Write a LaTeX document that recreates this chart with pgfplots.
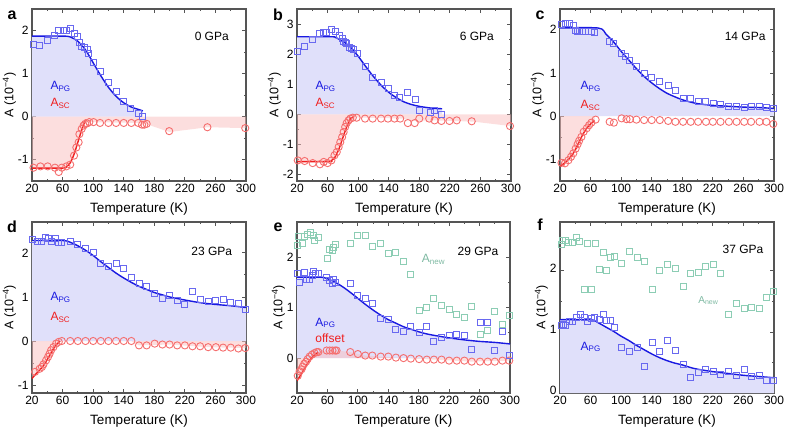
\documentclass[border=0pt]{standalone}
\usepackage{fontspec}
\setmainfont{Liberation Sans}
\usepackage{pgfplots}
\pgfplotsset{compat=1.18}
\definecolor{pgline}{RGB}{25,25,225}
\definecolor{pgmark}{RGB}{105,105,240}
\definecolor{pgfill}{RGB}{224,224,250}
\definecolor{scline}{RGB}{240,30,30}
\definecolor{scmark}{RGB}{245,110,110}
\definecolor{scfill}{RGB}{250,190,190}
\definecolor{newmark}{RGB}{140,205,180}
\definecolor{framec}{RGB}{85,85,85}
\newcommand{\fs}{\fontsize{12}{14}\selectfont}
\newcommand{\fl}{\fontsize{13.5}{15}\selectfont}
\pgfplotsset{
  panel/.style={
    scale only axis, width=214pt, height=172pt,
    xmin=20, xmax=300, xtick={20,60,...,300}, minor x tick num=1, minor y tick num=1,
    tick align=inside, major tick length=4pt, minor tick length=2.2pt,
    axis line style={line width=1.3pt, draw=framec},
    every tick/.style={framec, line width=0.8pt},
    /pgf/number format/assume math mode=true,
    ticklabel style={font=\fs},
    label style={font=\fl},
    xlabel={Temperature (K)},
    ylabel={A (10\textsuperscript{\char"2212 4})},
    ylabel style={font=\fontsize{12.5}{14}\selectfont, yshift=-5pt},
    xlabel style={yshift=-3pt},
    clip=true,
  },
  pgl/.style={pgline, line width=1.4pt, no markers, smooth},
  scl/.style={scline, line width=1.4pt, no markers, smooth},
  pgm/.style={only marks, mark=square, mark size=3pt, mark options={draw=pgmark, line width=0.9pt, fill=none}},
  scm/.style={only marks, mark=o, mark size=3.6pt, mark options={draw=scmark, line width=0.9pt, fill=none}},
  nwm/.style={only marks, mark=square, mark size=3pt, mark options={draw=newmark, line width=0.9pt, fill=none}},
  pgf/.style={fill=pgfill, draw=none},
  scf/.style={fill=scfill, fill opacity=0.5, draw=none},
}
\begin{document}
\begin{tikzpicture}[x=1pt,y=1pt]
\useasboundingbox (0,0) rectangle (791,-447);
% ---------------- a
\begin{axis}[panel, at={(32pt,-181pt)}, anchor=south west, ymin=-1.5, ymax=2.5, ytick={-1,0,1,2}]
\addplot[pgf] coordinates {(20,0) (20,1.87) (60,1.87) (70,1.85) (80,1.75) (90,1.55) (100,1.25) (110,0.95) (120,0.68) (130,0.47) (140,0.32) (150,0.22) (160,0.16) (165,0.13) (165,0)} -- cycle;
\addplot[scf] coordinates {(20,0) (20,-1.2) (60,-1.2) (65,-1.17) (70,-1.08) (75,-0.88) (80,-0.6) (85,-0.32) (90,-0.12) (95,-0.13) (160,-0.15) (170,-0.18) (200,-0.36) (250,-0.25) (300,-0.27) (300,0)} -- cycle;
\addplot[scm] coordinates {(22,-1.19) (31,-1.16) (40.5,-1.16) (50,-1.19) (55,-1.29) (59,-1.19) (65,-1.16) (70,-1.12) (75,-0.91) (78,-0.72) (81,-0.6) (82,-0.41) (85,-0.29) (87.5,-0.21) (89.7,-0.17) (92,-0.16) (95,-0.13) (100.5,-0.13) (109,-0.15) (120,-0.15) (130,-0.15) (140,-0.15) (150,-0.15) (159,-0.15) (164,-0.19) (167,-0.19) (170,-0.17) (199.5,-0.34) (249.5,-0.25) (299,-0.27)};
\addplot[pgm] coordinates {(21.3,1.68) (30,1.66) (40.5,1.76) (49.6,1.88) (55,2.0) (60.5,2.0) (65,2.0) (70,2.05) (75,1.94) (79,1.86) (82,1.72) (85,1.63) (88,1.6) (92,1.55) (94,1.47) (100,1.25) (110,1.04) (120,0.8) (130,0.59) (140,0.36) (149,0.18) (159,0.06) (165,0.01)};
\addplot[pgl] coordinates {(20,1.87) (60,1.87) (70,1.85) (80,1.75) (90,1.55) (100,1.25) (110,0.95) (120,0.68) (130,0.47) (140,0.32) (150,0.22) (160,0.16) (165,0.13)};
\addplot[scl] coordinates {(20,-1.2) (60,-1.2) (65,-1.17) (70,-1.08) (75,-0.88) (80,-0.6) (85,-0.32) (90,-0.07)};
\node[font=\fs, anchor=center] at (rel axis cs:0.84,0.84) {0 GPa};
\node[font=\fs, text=pgline, anchor=west] at (rel axis cs:0.07,0.55) {A\textsubscript{PG}};
\node[font=\fs, text=scline, anchor=west] at (rel axis cs:0.07,0.45) {A\textsubscript{SC}};
\end{axis}
% ---------------- b
\begin{axis}[panel, at={(297pt,-181pt)}, anchor=south west, ymin=-2.23, ymax=3.53, ytick={-2,-1,0,1,2,3}]
\addplot[pgf] coordinates {(20,0) (20,2.6) (65,2.6) (70,2.58) (80,2.45) (90,2.25) (100,1.95) (110,1.6) (120,1.27) (130,0.98) (140,0.74) (150,0.56) (160,0.42) (170,0.33) (180,0.27) (190,0.23) (200,0.2) (210,0.19) (210,0)} -- cycle;
\addplot[scf] coordinates {(20,0) (20,-1.58) (62,-1.58) (65,-1.55) (70,-1.42) (75,-1.15) (80,-0.78) (85,-0.42) (90,-0.15) (95,-0.1) (160,-0.14) (170,-0.22) (200,-0.2) (250,-0.24) (300,-0.39) (300,0)} -- cycle;
\addplot[scm] coordinates {(21,-1.54) (30,-1.56) (40.5,-1.63) (50,-1.67) (55,-1.59) (60,-1.63) (65,-1.54) (69,-1.37) (72,-1.26) (74.5,-1.09) (76.6,-0.93) (79,-0.76) (81,-0.59) (83,-0.42) (85,-0.29) (87.5,-0.2) (89.7,-0.14) (93,-0.11) (98,-0.11) (109,-0.14) (119,-0.14) (130,-0.14) (139,-0.14) (147.6,-0.14) (155,-0.14) (165,-0.29) (174,-0.29) (180,-0.14) (193,-0.14) (200,-0.2) (209,-0.22) (219.5,-0.22) (229,-0.2) (248.6,-0.23) (298.7,-0.39)};
\addplot[pgm] coordinates {(21,2.11) (30,2.29) (40.5,2.51) (49.6,2.7) (55,2.73) (59,2.75) (65,2.84) (70,2.79) (75,2.66) (79,2.55) (81,2.45) (83,2.42) (85,2.36) (88,2.25) (91,2.22) (94,2.17) (99,2.03) (109,1.62) (119,1.25) (130,1.08) (139,0.88) (147,0.64) (154,0.58) (165,0.72) (175,0.49) (180,0.13) (194,0.08) (200,0.13) (209,0.0)};
\addplot[pgl] coordinates {(20,2.6) (65,2.6) (70,2.58) (80,2.45) (90,2.25) (100,1.95) (110,1.6) (120,1.27) (130,0.98) (140,0.74) (150,0.56) (160,0.42) (170,0.33) (180,0.27) (190,0.23) (200,0.2) (210,0.19)};
\addplot[scl] coordinates {(20,-1.58) (62,-1.58) (65,-1.55) (70,-1.42) (75,-1.15) (80,-0.78) (85,-0.42) (90,-0.15) (95,-0.07)};
\node[font=\fs, anchor=center] at (rel axis cs:0.84,0.84) {6 GPa};
\node[font=\fs, text=pgline, anchor=west] at (rel axis cs:0.07,0.55) {A\textsubscript{PG}};
\node[font=\fs, text=scline, anchor=west] at (rel axis cs:0.07,0.45) {A\textsubscript{SC}};
\end{axis}
% ---------------- c
\begin{axis}[panel, at={(560pt,-181pt)}, anchor=south west, ymin=-1.5, ymax=2.48, ytick={-1,0,1,2}]
\addplot[pgf] coordinates {(20,0) (20,2.04) (70,2.04) (80,1.9) (90,1.72) (100,1.5) (110,1.3) (120,1.1) (130,0.92) (140,0.77) (150,0.64) (160,0.53) (170,0.45) (180,0.38) (190,0.33) (200,0.29) (220,0.25) (240,0.23) (260,0.21) (280,0.2) (300,0.18) (300,0)} -- cycle;
\addplot[scf] coordinates {(20,0) (20,-1.15) (25,-1.1) (30,-1.02) (35,-0.92) (40,-0.78) (45,-0.6) (50,-0.42) (55,-0.28) (60,-0.18) (65,-0.1) (66,0)} -- cycle;
\addplot[scm] coordinates {(22,-1.08) (26.5,-1.09) (31,-1.02) (34.4,-0.94) (37.4,-0.86) (40.5,-0.75) (43,-0.65) (45,-0.57) (48,-0.48) (51,-0.36) (55,-0.28) (58,-0.21) (61,-0.15) (66.6,-0.08) (85,-0.13) (90.5,-0.15) (100.6,-0.05) (107,-0.07) (111.5,-0.07) (120,-0.08) (130,-0.09) (140,-0.09) (150.6,-0.09) (161.5,-0.11) (171,-0.13) (181,-0.13) (191,-0.13) (200.7,-0.13) (211,-0.13) (220,-0.13) (230,-0.13) (241,-0.13) (251,-0.13) (261,-0.13) (270,-0.13) (281,-0.13) (290,-0.13) (299,-0.18)};
\addplot[pgm] coordinates {(22,2.12) (27,2.14) (32,2.14) (37,2.1) (39.6,1.98) (43,1.95) (46,1.95) (49,1.97) (52.7,1.95) (57,1.96) (61,1.97) (65.7,1.93) (85,1.72) (89.7,1.69) (100.6,1.46) (105,1.38) (111.5,1.29) (120,1.14) (130,0.98) (140,0.89) (150.6,0.81) (161.5,0.7) (171,0.6) (181,0.41) (191,0.41) (200.7,0.35) (210.8,0.35) (220.3,0.29) (230.4,0.27) (240.8,0.23) (250.8,0.22) (260.8,0.2) (270.4,0.22) (281.3,0.22) (290,0.2) (298.7,0.18)};
\addplot[pgl] coordinates {(20,2.04) (70,2.04) (80,1.9) (90,1.72) (100,1.5) (110,1.3) (120,1.1) (130,0.92) (140,0.77) (150,0.64) (160,0.53) (170,0.45) (180,0.38) (190,0.33) (200,0.29) (220,0.25) (240,0.23) (260,0.21) (280,0.2) (300,0.18)};
\addplot[scl] coordinates {(20,-1.15) (25,-1.1) (30,-1.02) (35,-0.92) (40,-0.78) (45,-0.6) (50,-0.42) (55,-0.28) (60,-0.18) (65,-0.1)};
\node[font=\fs, anchor=center] at (rel axis cs:0.865,0.84) {14 GPa};
\node[font=\fs, text=pgline, anchor=west] at (rel axis cs:0.08,0.55) {A\textsubscript{PG}};
\node[font=\fs, text=scline, anchor=west] at (rel axis cs:0.08,0.44) {A\textsubscript{SC}};
\end{axis}
% ---------------- d
\begin{axis}[panel, height=171pt, at={(32pt,-393pt)}, anchor=south west, ymin=-1.18, ymax=2.7, ytick={-1,0,1,2}]
\addplot[pgf] coordinates {(20,0) (20,2.28) (60,2.28) (70,2.24) (80,2.16) (90,2.06) (100,1.94) (110,1.8) (120,1.67) (130,1.54) (140,1.43) (150,1.33) (160,1.24) (170,1.17) (180,1.1) (190,1.05) (200,1.0) (220,0.93) (240,0.87) (260,0.83) (280,0.8) (300,0.76) (300,0)} -- cycle;
\addplot[scf] coordinates {(20,0) (20,-0.85) (25,-0.75) (30,-0.66) (35,-0.56) (40,-0.42) (45,-0.27) (50,-0.12) (55,-0.03) (57,0) (150,0) (160,-0.1) (200,-0.08) (250,-0.14) (300,-0.16) (300,0)} -- cycle;
\addplot[scm] coordinates {(24,-0.7) (30,-0.63) (33,-0.59) (35,-0.53) (38.4,-0.44) (41,-0.36) (43,-0.29) (45,-0.21) (48,-0.14) (51.5,-0.06) (55,-0.02) (59,0) (70,0) (80,0) (90,0) (100,0) (110,0) (120,0) (130,0) (140,0) (150,0) (160,-0.1) (170,-0.1) (180.5,-0.06) (190.6,-0.08) (200,-0.08) (210,-0.1) (220,-0.1) (230,-0.12) (240,-0.12) (250.5,-0.14) (260.6,-0.14) (270,-0.15) (280,-0.15) (290,-0.17) (299,-0.16)};
\addplot[pgm] coordinates {(21,2.31) (26.6,2.25) (33,2.25) (37.5,2.35) (42,2.33) (46,2.27) (50.6,2.33) (55,2.23) (59,2.23) (70,2.25) (80,2.2) (90,2.1) (100,2.0) (109.7,1.76) (119.7,1.7) (130,1.77) (140,1.64) (150,1.45) (160,1.3) (169.6,1.24) (180.5,1.08) (190.6,0.96) (200,1.04) (210,0.92) (220,0.83) (230,1.13) (240,0.95) (250.5,0.9) (260.6,0.92) (270,0.95) (280,0.87) (290,0.86) (299,0.72)};
\addplot[pgl] coordinates {(20,2.28) (60,2.28) (70,2.24) (80,2.16) (90,2.06) (100,1.94) (110,1.8) (120,1.67) (130,1.54) (140,1.43) (150,1.33) (160,1.24) (170,1.17) (180,1.1) (190,1.05) (200,1.0) (220,0.93) (240,0.87) (260,0.83) (280,0.8) (300,0.76)};
\addplot[scl] coordinates {(20,-0.85) (25,-0.75) (30,-0.66) (35,-0.56) (40,-0.42) (45,-0.27) (50,-0.12) (55,-0.03) (57,0)};
\node[font=\fs, anchor=center] at (rel axis cs:0.84,0.83) {23 GPa};
\node[font=\fs, text=pgline, anchor=west] at (rel axis cs:0.07,0.56) {A\textsubscript{PG}};
\node[font=\fs, text=scline, anchor=west] at (rel axis cs:0.07,0.44) {A\textsubscript{SC}};
\end{axis}
% ---------------- e
\begin{axis}[panel, width=213pt, height=171pt, at={(297pt,-393pt)}, anchor=south west, ymin=-0.69, ymax=2.69, ytick={0,1,2}]
\addplot[pgf] coordinates {(20,0) (20,1.6) (50,1.6) (60,1.57) (70,1.5) (80,1.41) (90,1.3) (100,1.18) (110,1.06) (120,0.95) (130,0.85) (140,0.76) (150,0.69) (160,0.62) (170,0.57) (180,0.52) (190,0.48) (200,0.45) (220,0.4) (240,0.36) (260,0.33) (280,0.31) (300,0.28) (300,0)} -- cycle;
\addplot[scf] coordinates {(20,0) (20,-0.45) (25,-0.33) (30,-0.2) (35,-0.08) (40,0.02) (45,0.09) (48,0.11) (60,0.15) (72,0.15) (90,0.12) (110,0.05) (150,0.01) (160,0) (200,-0.03) (250,-0.07) (300,-0.05) (300,0)} -- cycle;
\addplot[nwm] coordinates {(21,2.22) (22,2.41) (27.4,2.26) (30,2.41) (34,2.44) (37.5,2.48) (41,2.42) (43,2.33) (47.6,2.38) (59.4,1.96) (63,2.15) (66,2.13) (68,2.18) (71,2.24) (90,2.26) (100,2.42) (109.7,2.42) (119,2.2) (130,2.26) (140,2.06) (150,2.08) (160,1.91) (169.6,1.65) (180.5,0.94) (190.6,1.0) (200,1.17) (210,1.04) (220,0.97) (230,0.86) (240,0.81) (249.7,1.02) (260.6,0.46) (270.7,0.54) (280,0.92) (290,0.66) (299,0.84)};
\addplot[scm] coordinates {(21,-0.35) (23.5,-0.26) (26,-0.22) (27.4,-0.17) (29.6,-0.11) (32,-0.07) (34,-0.02) (36.6,0.03) (39.7,0.07) (43,0.1) (46,0.12) (48,0.12) (59,0.15) (63,0.15) (66.6,0.15) (70,0.15) (72,0.15) (90,0.12) (100,0.08) (109.7,0.05) (119,0.05) (130,0.03) (140,0.03) (150,0.01) (160,0) (169.6,-0.01) (180.5,-0.02) (190.6,-0.03) (200,-0.03) (210,-0.03) (220,-0.05) (230,-0.05) (240,-0.05) (249.7,-0.07) (260.6,-0.07) (270.7,-0.07) (280,-0.07) (290,-0.05) (299,-0.05)};
\addplot[pgm] coordinates {(21,1.67) (23.5,1.5) (30,1.7) (33,1.56) (36,1.55) (39.7,1.63) (42,1.72) (44,1.67) (47.6,1.68) (59,1.6) (62,1.53) (66,1.47) (68,1.56) (70,1.49) (90,1.47) (100,1.23) (109.7,1.17) (119,1.09) (130,0.79) (140,0.76) (150,0.57) (160,0.53) (169.6,0.63) (180.5,0.51) (190.6,0.63) (200,0.33) (210,0.4) (220,0.45) (230,0.46) (240,0.44) (249.7,0.18) (260.6,0.71) (270.7,0.71) (280,0.15) (290,0.53) (299,0.05)};
\addplot[pgl] coordinates {(20,1.6) (50,1.6) (60,1.57) (70,1.5) (80,1.41) (90,1.3) (100,1.18) (110,1.06) (120,0.95) (130,0.85) (140,0.76) (150,0.69) (160,0.62) (170,0.57) (180,0.52) (190,0.48) (200,0.45) (220,0.4) (240,0.36) (260,0.33) (280,0.31) (300,0.28)};
\addplot[scl] coordinates {(20,-0.45) (25,-0.33) (30,-0.2) (35,-0.08) (40,0.02) (45,0.09) (48,0.11)};
\node[font=\fs, anchor=center] at (rel axis cs:0.85,0.83) {29 GPa};
\node[font=\fs, text=newmark!90!black, anchor=west] at (rel axis cs:0.57,0.78) {A\textsubscript{new}};
\node[font=\fs, text=pgline, anchor=west] at (rel axis cs:0.07,0.41) {A\textsubscript{PG}};
\node[font=\fs, text=scline, anchor=west] at (rel axis cs:0.07,0.32) {offset};
\end{axis}
% ---------------- f
\begin{axis}[panel, height=171pt, at={(560pt,-393pt)}, anchor=south west, ymin=0, ymax=2.8, ytick={0,1,2}, yticklabel style={yshift=2.5pt}]
\addplot[pgf] coordinates {(20,0) (20,1.2) (60,1.2) (70,1.15) (80,1.08) (90,1.01) (100,0.93) (110,0.86) (120,0.78) (130,0.71) (140,0.64) (150,0.58) (160,0.53) (170,0.49) (180,0.46) (190,0.42) (200,0.39) (220,0.35) (240,0.32) (260,0.29) (280,0.27) (300,0.25) (300,0)} -- cycle;
\addplot[nwm] coordinates {(21.3,2.44) (23.5,2.5) (26.5,2.5) (31,2.46) (36.5,2.46) (41,2.55) (46,2.48) (51.8,1.7) (56,2.45) (61.4,1.69) (66.6,2.45) (71,2.03) (76.6,2.3) (81,2.0) (86.6,2.22) (91,2.23) (100.6,2.12) (111.5,2.32) (121.5,2.22) (131,2.16) (140.6,1.7) (150.6,2.0) (160.6,2.11) (171,2.04) (181,1.74) (190.7,1.96) (200.7,1.98) (210.8,2.07) (220.3,2.1) (230.4,1.95) (240.8,1.28) (250.8,1.47) (260.8,1.39) (270.4,1.4) (280.4,1.39) (290,1.57) (298.7,1.66)};
\addplot[pgm] coordinates {(22,1.1) (24,1.13) (27.4,1.1) (32,1.17) (36.5,1.17) (41,1.24) (47,1.28) (51.4,1.24) (56,1.17) (61.4,1.22) (65.7,1.24) (71,1.21) (76.6,1.29) (81,1.18) (86.6,1.18) (91,1.07) (100.6,0.75) (110.6,0.68) (121.5,0.75) (131,0.43) (140.6,0.83) (150.6,0.68) (160.6,0.86) (171,0.69) (181,0.46) (190.7,0.26) (200.7,0.34) (210.8,0.38) (220.3,0.35) (230.4,0.3) (240.8,0.35) (250.8,0.28) (260.8,0.38) (270.4,0.27) (280.4,0.29) (290,0.21) (298.7,0.21)};
\addplot[pgl] coordinates {(20,1.2) (60,1.2) (70,1.15) (80,1.08) (90,1.01) (100,0.93) (110,0.86) (120,0.78) (130,0.71) (140,0.64) (150,0.58) (160,0.53) (170,0.49) (180,0.46) (190,0.42) (200,0.39) (220,0.35) (240,0.32) (260,0.29) (280,0.27) (300,0.25)};
\node[font=\fs, anchor=center] at (rel axis cs:0.855,0.84) {37 GPa};
\node[font=\fontsize{10}{12}\selectfont, text=newmark!90!black, anchor=west] at (rel axis cs:0.63,0.54) {A\textsubscript{new}};
\node[font=\fs, text=pgline, anchor=west] at (rel axis cs:0.08,0.27) {A\textsubscript{PG}};
\end{axis}
% panel letters
\node[font=\fontsize{16}{18}\selectfont\bfseries] at (12,-15) {a};
\node[font=\fontsize{16}{18}\selectfont\bfseries] at (278,-15) {b};
\node[font=\fontsize{16}{18}\selectfont\bfseries] at (540,-15) {c};
\node[font=\fontsize{16}{18}\selectfont\bfseries] at (12,-227) {d};
\node[font=\fontsize{16}{18}\selectfont\bfseries] at (278,-227) {e};
\node[font=\fontsize{16}{18}\selectfont\bfseries] at (540,-225) {f};
\end{tikzpicture}
\end{document}
